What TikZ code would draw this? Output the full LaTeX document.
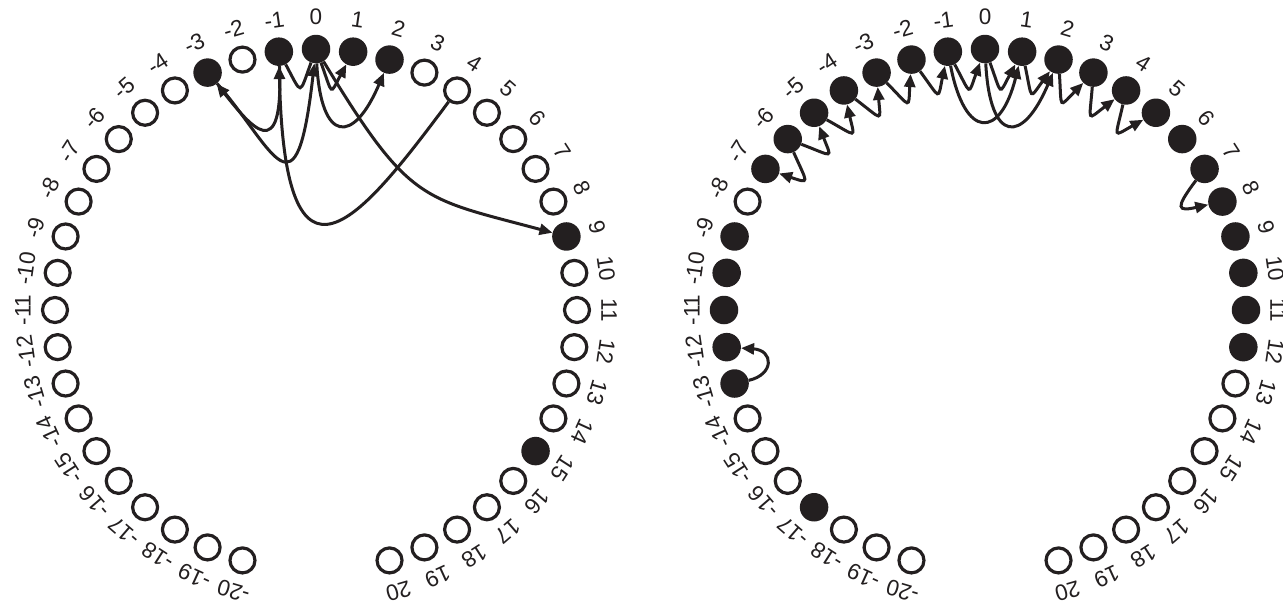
\documentclass[tikz,border=0pt]{standalone}
\usepackage{fontspec}
\setmainfont{Liberation Sans}
\usetikzlibrary{arrows.meta}
\definecolor{ink}{HTML}{231F20}
\begin{document}
\begin{tikzpicture}[x=1pt,y=1pt,
  opennode/.style={circle,draw=ink,line width=3.2pt,minimum size=25pt,inner sep=0pt},
  fullnode/.style={circle,fill=ink,minimum size=28.5pt,inner sep=0pt},
  lab/.style={font=\fontsize{22.5}{22.5}\selectfont,inner sep=0pt,text=ink},
  arr/.style={draw=ink,line width=3pt,-{Triangle[length=13pt,width=11pt]}},
  lin/.style={draw=ink,line width=3pt}]
\useasboundingbox (0,0) rectangle (1283,-611);
% ---------- left circle ----------
\begin{scope}[shift={(316,-310)}]
\foreach \k in {-20,...,-4,-2,3,4,5,6,7,8,10,11,12,13,14,16,17,18,19,20}
  {\pgfmathsetmacro\a{90-(\k)*360/44}
   \node[opennode] (L\k) at (\a:261) {};}
\foreach \k in {-3,-1,0,1,2,9,15}
  {\pgfmathsetmacro\a{90-(\k)*360/44}
   \node[fullnode] (L\k) at (\a:261) {};}
\foreach \k in {-20,...,20}
  {\pgfmathsetmacro\a{90-(\k)*360/44}
   \pgfmathsetmacro\r{-(\k)*360/44}
   \node[lab,rotate=\r] (LT\k) at (\a:293) {\k};}
\end{scope}
% left connectors
\draw[arr] (L-1) .. controls +(5,-118) and +(42,-52) .. (L-3);
\draw[arr] (L-3) .. controls +(67,-77) and +(-20,-176) .. (L0);
\draw[arr] (L4) .. controls +(-97,-130) and +(6,-263) .. (L-1);
\draw[lin] (L-1) .. controls +(298.18:50) and +(250:50) .. (L0);
\draw[arr] (L0) .. controls +(290:50) and +(241.82:50) .. (L1);
\draw[arr] (L0) .. controls +(5,-95) and +(-36,-85) .. (L2);
\draw[arr] (L0) .. controls +(94,-155) and +(-145,39) .. (L9);
% ---------- right circle ----------
\begin{scope}[shift={(985,-310)}]
\foreach \k in {-20,-19,-18,-16,-15,-14,-8,13,14,15,16,17,18,19,20}
  {\pgfmathsetmacro\a{90-(\k)*360/44}
   \node[opennode] (R\k) at (\a:261) {};}
\foreach \k in {-17,-13,-12,-11,-10,-9,-7,-6,-5,-4,-3,-2,-1,0,1,2,3,4,5,6,7,8,9,10,11,12}
  {\pgfmathsetmacro\a{90-(\k)*360/44}
   \node[fullnode] (R\k) at (\a:261) {};}
\foreach \k in {-20,...,20}
  {\pgfmathsetmacro\a{90-(\k)*360/44}
   \pgfmathsetmacro\r{-(\k)*360/44}
   \node[lab,rotate=\r] (RT\k) at (\a:293) {\k};}
\end{scope}
% right connectors
\foreach \k in {-6,...,4}
  {\pgfmathtruncatemacro\n{\k+1}
   \pgfmathsetmacro\pa{90-(\k)*360/44+200}
   \pgfmathsetmacro\pb{90-(\n)*360/44+160}
   \draw[arr] (R\k) .. controls +(\pa:50) and +(\pb:50) .. (R\n);}
\draw[arr] (R-1) .. controls +(17,-88) and +(-22,-88) .. (R1);
\draw[arr] (R0) .. controls +(5,-95) and +(-36,-85) .. (R2);
\draw[arr] (R-6) .. controls +(20,-45) and +(45,-15) .. (R-7);
\draw[arr] (R7) .. controls +(-30,-40) and +(-45,-10) .. (R8);
\draw[arr] (R-13) .. controls +(40,9) and +(47,-3) .. (R-12);
\end{tikzpicture}
\end{document}
